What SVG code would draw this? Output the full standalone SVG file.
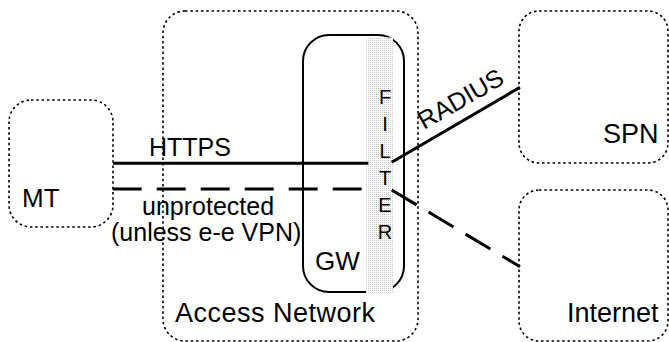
<svg xmlns="http://www.w3.org/2000/svg" width="669" height="342" viewBox="0 0 669 342">
<style>
.dot{fill:none;stroke:#000;stroke-width:1.6;stroke-dasharray:2.5 2.8}
.t{font-family:"Liberation Sans",Arial,sans-serif;fill:#000}
.solid{fill:none;stroke:#000;stroke-width:3}
.dash{fill:none;stroke:#000;stroke-width:3;stroke-dasharray:29 15}
</style>
<defs>
<pattern id="fp" patternUnits="userSpaceOnUse" x="0" y="0" width="2" height="2">
<rect width="2" height="2" fill="#fff"/>
<rect width="1" height="1" fill="#c4c4c4"/>
</pattern>
</defs>
<rect width="669" height="342" fill="#fff"/>
<g id="MT">
<rect class="dot" x="9" y="100" width="104" height="127" rx="22"/>
<text class="t" x="22" y="207" font-size="26">MT</text>
</g>
<g id="AccessNetwork">
<rect class="dot" x="163" y="11" width="255" height="330" rx="22"/>
<text class="t" x="175" y="321.7" font-size="27" textLength="200" lengthAdjust="spacing">Access Network</text>
</g>
<g id="SPN">
<rect class="dot" x="519" y="11" width="149" height="152" rx="20"/>
<text class="t" x="603" y="143" font-size="27">SPN</text>
</g>
<g id="Internet">
<rect class="dot" x="519" y="190" width="149" height="151" rx="20"/>
<text class="t" x="567" y="321.7" font-size="27">Internet</text>
</g>
<g id="GW">
<rect x="303" y="35" width="101" height="257" rx="26" fill="none" stroke="#000" stroke-width="2"/>
<text class="t" x="315" y="270" font-size="26">GW</text>
</g>
<g id="Filter">
<rect x="366" y="37.5" width="27" height="256" fill="url(#fp)"/>
<g class="t" font-size="20" text-anchor="middle">
<text x="385" y="103.5">F</text>
<text x="385" y="130.5">I</text>
<text x="385" y="157.5">L</text>
<text x="385" y="184.5">T</text>
<text x="385" y="211.5">E</text>
<text x="385" y="238.5">R</text>
</g>
</g>
<g id="connectors">
<path class="solid" d="M113 163.3 H368.3"/>
<path class="solid" d="M391.7 162.3 L520 87.3"/>
<path class="dash" d="M112.7 189 H362"/>
<path class="dash" style="stroke-dasharray:29 14" d="M391.7 190 L520 266.7"/>
<text class="t" x="149" y="156" font-size="25">HTTPS</text>
<text class="t" font-size="25" transform="translate(424 130) rotate(-30)">RADIUS</text>
<text class="t" x="142" y="215" font-size="25">unprotected</text>
<text class="t" x="111" y="241" font-size="25">(unless e-e VPN)</text>
</g>
</svg>
